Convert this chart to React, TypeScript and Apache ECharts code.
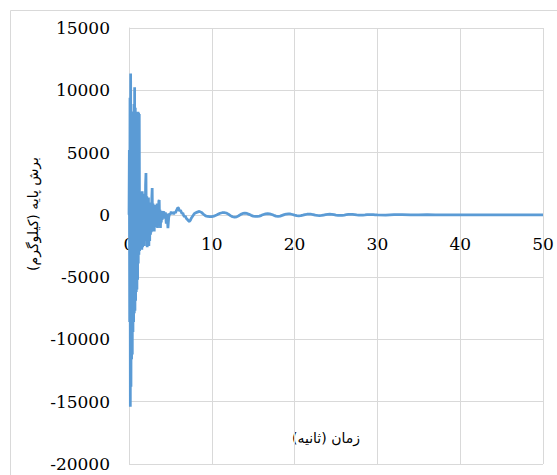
import React, { useEffect, useRef } from "react";
import * as echarts from "echarts";

// Segment 1: 0 – 1.4 s
const timeSeg1 = [0, 0.04, 0.08, 0.12, 0.16, 0.2, 0.24, 0.28, 0.32, 0.36, 0.4, 0.44, 0.48, 0.52, 0.56, 0.6, 0.64, 0.68, 0.72, 0.76, 0.8, 0.84, 0.88, 0.92, 0.96, 1.0, 1.04, 1.08, 1.12, 1.16, 1.2, 1.24, 1.28, 1.32, 1.36, 1.4];
const shearSeg1 = [0, 5200, -8600, 9400, -15400, 11350, -13800, 8200, -11600, 7900, -11200, 8300, -9400, 7400, -8600, 8900, -7900, 10250, -7700, 8600, -6900, 7800, -6200, 8000, -6000, 7500, -5200, 8270, -3900, 8200, -3200, 8100, -2900, 1800, -2700, 1700];

// Segment 2: 1.45 – 4.0 s
const timeSeg2 = [1.45, 1.5, 1.55, 1.6, 1.65, 1.7, 1.75, 1.8, 1.85, 1.9, 1.95, 2.0, 2.05, 2.1, 2.15, 2.2, 2.25, 2.3, 2.35, 2.4, 2.45, 2.5, 2.55, 2.6, 2.65, 2.7, 2.75, 2.8, 2.85, 2.9, 2.95, 3.0, 3.05, 3.1, 3.15, 3.2, 3.25, 3.3, 3.35, 3.4, 3.45, 3.5, 3.55, 3.6, 3.65, 3.7, 3.75, 3.8, 3.85, 3.9, 3.95, 4.0];
const shearSeg2 = [-2400, 1500, -2800, 1900, -2600, 1300, -2300, 1700, -2500, 1200, -2100, 2400, 3350, -1900, 1500, -2600, 1100, -2200, 1400, -2500, 900, -2100, 1000, -1600, 800, -1400, 1300, 2150, -1300, 900, -1200, 600, -1330, 700, -900, 800, -1000, 500, -800, 900, -1050, 700, -700, 1100, 1200, -900, 400, -1050, 300, -600, 200, -400];

// Segment 3: 4.1 – 8.0 s
const timeSeg3 = [4.1, 4.2, 4.3, 4.4, 4.5, 4.6, 4.7, 4.8, 4.9, 5.0, 5.1, 5.2, 5.3, 5.4, 5.5, 5.6, 5.7, 5.8, 5.9, 6.0, 6.1, 6.2, 6.3, 6.4, 6.5, 6.6, 6.7, 6.8, 6.9, 7.0, 7.1, 7.2, 7.3, 7.4, 7.5, 7.6, 7.7, 7.8, 7.9, 8.0];
const shearSeg3 = [150, 280, -300, 200, -700, 100, -1070, -200, 100, 50, 250, 100, 200, 50, 250, 150, 300, 450, 580, 520, 300, 380, 250, 100, 150, -50, -150, -100, -250, -350, -400, -500, -530, -450, -300, -200, -100, 0, 100, 150];

// Segment 4: 8.25 – 10 s
const timeSeg4 = [8.25, 8.5, 8.75, 9.0, 9.25, 9.5, 9.75, 10.0];
const shearSeg4 = [220, 280, 200, 50, -80, -130, -145, -140];

// Segment 5: 10.25 – 30 s
const timeSeg5 = [10.25, 10.5, 10.75, 11.0, 11.25, 11.5, 11.75, 12.0, 12.25, 12.5, 12.75, 13.0, 13.25, 13.5, 13.75, 14.0, 14.25, 14.5, 14.75, 15.0, 15.25, 15.5, 15.75, 16.0, 16.25, 16.5, 16.75, 17.0, 17.25, 17.5, 17.75, 18.0, 18.25, 18.5, 18.75, 19.0, 19.25, 19.5, 19.75, 20.0, 20.25, 20.5, 20.75, 21.0, 21.25, 21.5, 21.75, 22.0, 22.25, 22.5, 22.75, 23.0, 23.25, 23.5, 23.75, 24.0, 24.25, 24.5, 24.75, 25.0, 25.25, 25.5, 25.75, 26.0, 26.25, 26.5, 26.75, 27.0, 27.25, 27.5, 27.75, 28.0, 28.25, 28.5, 28.75, 29.0, 29.25, 29.5, 29.75, 30.0];
const shearSeg5 = [-110, -40, 50, 130, 170, 180, 150, 60, -60, -150, -190, -160, -70, 40, 110, 130, 110, 40, -40, -100, -125, -130, -100, -40, 30, 80, 95, 80, 30, -40, -100, -120, -100, -40, 20, 65, 80, 70, 30, -25, -65, -80, -65, -25, 20, 50, 60, 50, 20, -20, -45, -55, -45, -15, 15, 40, 50, 40, 15, -15, -35, -40, -35, -15, 10, 30, 35, 30, 10, -10, -25, -30, -25, -10, 10, 20, 25, 20, 5, -10];

// Segment 6: 31 – 50 s
const timeSeg6 = [31, 32, 33, 34, 35, 36, 37, 38, 39, 40, 41, 42, 43, 44, 45, 46, 47, 48, 49, 50];
const shearSeg6 = [-15, 10, 15, -10, -10, 10, 8, -5, -8, 5, 5, -5, -3, 3, 3, -2, -2, 2, 1, 0];

const xTitle = "زمان (ثانیه)";
const yTitle = "برش پایه (کیلوگرم)";

const Y_MIN = -20000;
const Y_MAX = 15000;

export default function App() {
  const ref = useRef<HTMLDivElement>(null);

  useEffect(() => {
    if (!ref.current) return;
    const chart = echarts.init(ref.current, undefined, { renderer: "svg" });
    const times = [...timeSeg1, ...timeSeg2, ...timeSeg3, ...timeSeg4, ...timeSeg5, ...timeSeg6];
    const values = [...shearSeg1, ...shearSeg2, ...shearSeg3, ...shearSeg4, ...shearSeg5, ...shearSeg6];
    const data = times.map((t, i) => [t, values[i]]);
    const gridColor = "#d9d9d9";
    const serif = "'DejaVu Serif', serif";
    const gridTop = 28;
    const gridHeight = 436;
    const zeroShift = -gridHeight * (0 - Y_MIN) / (Y_MAX - Y_MIN);
    chart.setOption({
      animation: false,
      backgroundColor: "#ffffff",
      grid: { left: 129, right: 14, top: gridTop, height: gridHeight, containLabel: false, outerBoundsMode: "none" },
      xAxis: {
        type: "value",
        min: 0,
        max: 50,
        interval: 10,
        offset: zeroShift,
        axisLine: { show: true, onZero: false, lineStyle: { color: gridColor, width: 1 } },
        axisTick: { show: false },
        axisLabel: {
          color: "#000",
          fontFamily: serif,
          fontSize: 17,
          margin: 21,
          formatter: (v: number) => String(v),
        },
        splitLine: { show: true, lineStyle: { color: gridColor, width: 1 } },
      },
      yAxis: {
        type: "value",
        min: Y_MIN,
        max: Y_MAX,
        interval: 5000,
        axisLine: { show: true, onZero: false, lineStyle: { color: gridColor, width: 1 } },
        axisTick: { show: false },
        axisLabel: {
          color: "#000",
          fontFamily: serif,
          fontSize: 17,
          margin: 19,
          formatter: (v: number) => String(v),
        },
        splitLine: { show: true, lineStyle: { color: gridColor, width: 1 } },
      },
      graphic: [
        {
          type: "rect",
          shape: { x: 10.5, y: 10.5, width: 700, height: 700 },
          style: { fill: "none", stroke: gridColor, lineWidth: 1 },
          silent: true,
          z: -10,
        },
        {
          type: "text",
          x: 326,
          y: 438,
          style: {
            text: xTitle,
            fill: "#000",
            font: "14px 'DejaVu Sans'",
            align: "center",
            verticalAlign: "middle",
          },
        },
        {
          type: "text",
          x: 33,
          y: 214,
          rotation: Math.PI / 2,
          style: {
            text: yTitle,
            fill: "#000",
            font: "14px 'DejaVu Sans'",
            align: "center",
            verticalAlign: "middle",
          },
        },
      ],
      series: [
        {
          type: "line",
          data,
          showSymbol: false,
          symbol: "none",
          lineStyle: { color: "#5b9bd5", width: 2.75 },
          itemStyle: { color: "#5b9bd5" },
          z: 5,
        },
      ],
    });
    return () => chart.dispose();
  }, []);

  return (
    <div
      ref={ref}
      style={{ position: "fixed", left: 0, top: 0, width: 557, height: 475, background: "#fff" }}
    />
  );
}
